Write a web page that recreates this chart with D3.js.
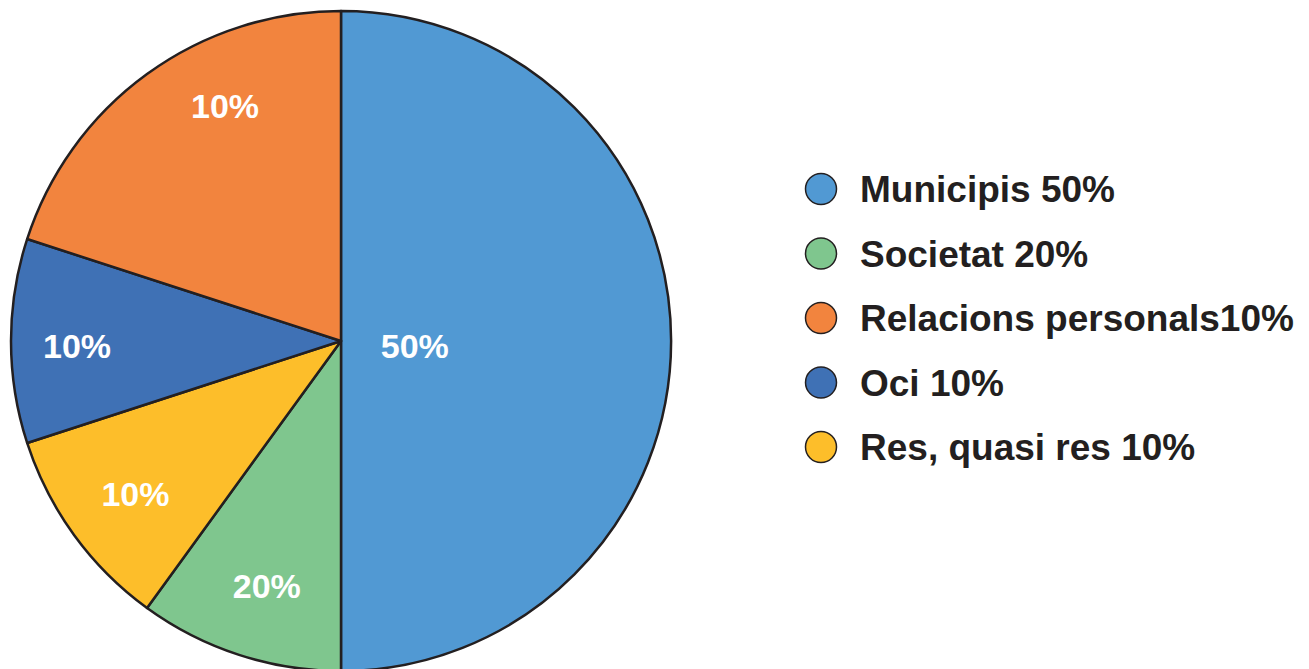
<!DOCTYPE html>
<html>
<head>
<meta charset="utf-8">
<script src="https://cdn.jsdelivr.net/npm/d3@7"></script>
<style>
  body { margin: 0; background: #fff; }
  svg { display: block; }
  text { font-family: "Liberation Sans", Arial, sans-serif; font-weight: bold; }
</style>
</head>
<body>
<svg width="1309" height="669"></svg>
<script>
// slices in drawing order, clockwise from 12 o'clock
var sliceNames = ["Municipis", "Societat", "Res, quasi res", "Oci", "Relacions personals"];
var sliceValues = [50, 10, 10, 10, 20];
var sliceLabels = ["50%", "20%", "10%", "10%", "10%"];

// legend entries (top to bottom)
var legendNames = ["Municipis", "Societat", "Relacions personals", "Oci", "Res, quasi res"];
var legendLabels = ["Municipis 50%", "Societat 20%", "Relacions personals10%", "Oci 10%", "Res, quasi res 10%"];

var colors = {
    "Municipis": "#5199d3",
    "Societat": "#7fc68e",
    "Relacions personals": "#f2843e",
    "Oci": "#3f71b5",
    "Res, quasi res": "#fdbe2a"
};

// label placement: [radius, angle shift in radians]
var labelPlace = [[74, 0.068], [256, -0.02], [256, -0.01], [264, -0.019], [262, 0.17]];

var svg = d3.select('svg');
var cx = 341, cy = 341, radius = 330;

var pie = d3.pie().sort(null).value(d => d.value);
var data = sliceNames.map((n, i) => ({ name: n, value: sliceValues[i], label: sliceLabels[i] }));
var arcs = pie(data);

var arc = d3.arc().innerRadius(0).outerRadius(radius);

var g = svg.append('g').attr('transform', 'translate(' + cx + ',' + cy + ')');

g.selectAll('path')
    .data(arcs)
    .enter()
    .append('path')
    .attr('d', arc)
    .style('fill', d => colors[d.data.name])
    .style('stroke', '#231f20')
    .style('stroke-width', 2.5)
    .style('stroke-linejoin', 'round');

g.selectAll('text.slice-label')
    .data(arcs)
    .enter()
    .append('text')
    .attr('class', 'slice-label')
    .attr('transform', function(d, i) {
        var a = (d.startAngle + d.endAngle) / 2 + labelPlace[i][1];
        var r = labelPlace[i][0];
        return 'translate(' + (Math.sin(a) * r) + ',' + (-Math.cos(a) * r) + ')';
    })
    .attr('text-anchor', 'middle')
    .attr('dy', '0.36em')
    .style('fill', '#fff')
    .style('font-size', '34px')
    .text(d => d.data.label);

// legend
var legendY = d3.scalePoint()
    .domain(legendNames)
    .range([189, 447]);

var legend = svg.selectAll('g.legend')
    .data(legendNames)
    .enter()
    .append('g')
    .attr('class', 'legend')
    .attr('transform', d => 'translate(0,' + legendY(d) + ')');

legend.append('circle')
    .attr('cx', 821)
    .attr('cy', 0)
    .attr('r', 15.5)
    .style('fill', d => colors[d])
    .style('stroke', '#231f20')
    .style('stroke-width', 1.5);

legend.append('text')
    .attr('x', 860)
    .attr('y', 13)
    .style('fill', '#231f20')
    .style('font-size', '37px')
    .text((d, i) => legendLabels[i]);
</script>
</body>
</html>
